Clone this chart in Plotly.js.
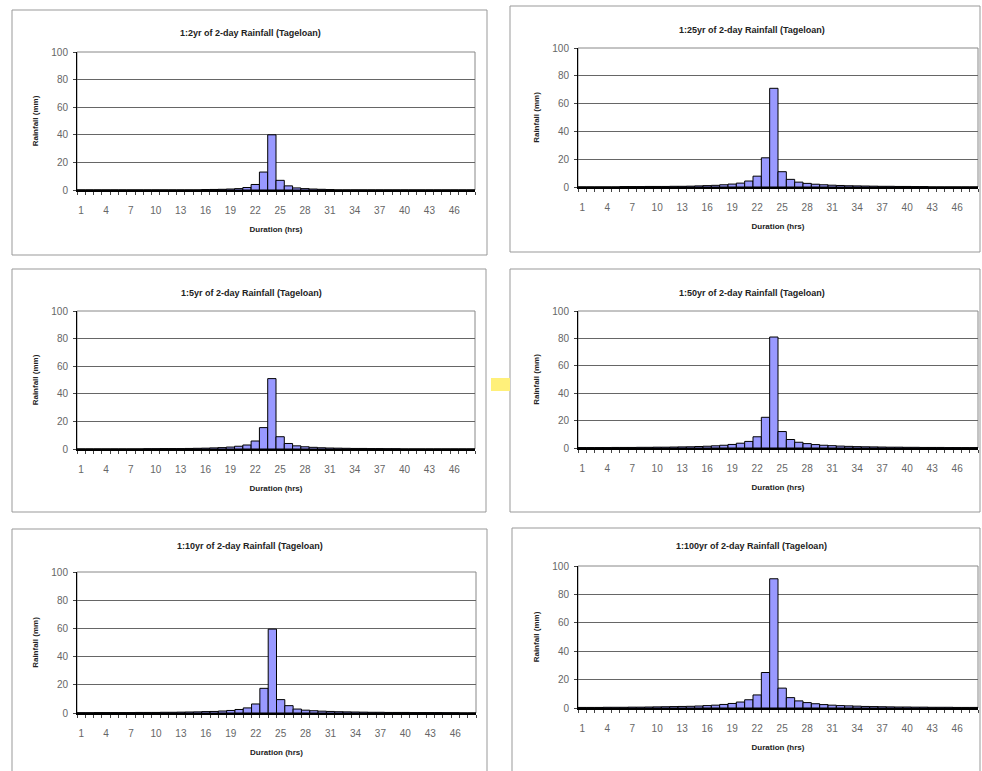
<!DOCTYPE html>
<html>
<head>
<meta charset="utf-8">
<script src="https://cdn.plot.ly/plotly-3.0.1.min.js"></script>
<style>html,body{margin:0;padding:0;background:#fff;}#chart{width:982px;height:771px;}</style>
</head>
<body>
<div id="chart"></div>
<script>
// ---- data ----
var hours = [];
for (var h = 1; h <= 48; h++) hours.push(h);

var rain2yr = [0,0,0,0,0,0,0,0,0,0,0,0,0,0,0,0.3,0.4,0.5,0.7,1.0,1.8,4,13,40,7,3,1.5,1,0.7,0.5,0.3,0,0,0,0,0,0,0,0,0,0,0,0,0,0,0,0,0];
var rain25yr = [0,0,0,0,0,0.3,0.3,0.3,0.4,0.4,0.4,0.5,0.5,0.6,0.8,1.0,1.2,1.6,2.1,2.8,4.3,7.8,21,71,11,5.5,3.5,2.6,2.0,1.6,1.3,1.1,0.9,0.8,0.7,0.6,0.5,0.5,0.4,0.4,0.3,0.3,0,0,0,0,0,0];
var rain5yr = [0,0,0,0,0,0,0,0,0.2,0.2,0.3,0.3,0.3,0.4,0.5,0.6,0.8,1.0,1.4,2.0,2.9,5.8,15.5,51,8.9,4.0,2.3,1.6,1.2,0.9,0.7,0.6,0.5,0.4,0.4,0.3,0.3,0.2,0.2,0,0,0,0,0,0,0,0,0];
var rain50yr = [0.3,0.3,0.3,0.3,0.4,0.4,0.4,0.5,0.5,0.6,0.6,0.7,0.8,0.9,1.1,1.3,1.6,2.0,2.6,3.5,4.8,8.2,22.4,81,12,6.2,4.2,3.2,2.5,2.0,1.7,1.4,1.2,1.0,0.9,0.8,0.7,0.6,0.6,0.5,0.5,0.4,0.4,0.4,0.3,0.3,0.3,0.3];
var rain10yr = [0.2,0.2,0.3,0.3,0.3,0.3,0.3,0.4,0.4,0.4,0.5,0.5,0.6,0.7,0.8,1.0,1.1,1.4,1.8,2.5,3.6,6.4,17.5,59.5,9.5,5.2,2.8,2.0,1.6,1.3,1.1,0.9,0.8,0.7,0.6,0.5,0.5,0.4,0.4,0.4,0.3,0.3,0.3,0.3,0.2,0.2,0,0];
var rain100yr = [0.4,0.4,0.4,0.5,0.5,0.5,0.6,0.6,0.7,0.8,0.9,1.0,1.1,1.2,1.4,1.7,2.0,2.5,3.2,4.2,5.8,9.2,25,91,14,7.3,5.0,3.8,3.0,2.4,2.0,1.7,1.5,1.3,1.1,1.0,0.9,0.8,0.7,0.7,0.6,0.6,0.5,0.5,0.5,0.4,0.4,0.4];

var chartTitles = [
  "1:2yr of 2-day Rainfall (Tageloan)",
  "1:25yr of 2-day Rainfall (Tageloan)",
  "1:5yr of 2-day Rainfall (Tageloan)",
  "1:50yr of 2-day Rainfall (Tageloan)",
  "1:10yr of 2-day Rainfall (Tageloan)",
  "1:100yr of 2-day Rainfall (Tageloan)"
];
var seriesList = [rain2yr, rain25yr, rain5yr, rain50yr, rain10yr, rain100yr];
var xTitle = "Duration (hrs)";
var yTitle = "Rainfall (mm)";

// ---- layout geometry (pixels) ----
var W = 982, H = 771;
var plots = [
  {x0:77,  x1:475, y0:52,  y1:190, box:[12,10,487,255],  tx:250, ty:33},
  {x0:578, x1:978, y0:48,  y1:187, box:[510,6,980,252],  tx:752, ty:30},
  {x0:77,  x1:475, y0:311, y1:449, box:[12,269,486,512], tx:251, ty:293},
  {x0:578, x1:978, y0:311, y1:448, box:[510,269,980,512],tx:752, ty:293},
  {x0:77,  x1:476, y0:572, y1:713, box:[12,529,487,790], tx:250, ty:546},
  {x0:578, x1:978, y0:566, y1:708, box:[512,528,980,790],tx:751, ty:546}
];
function px(x){return x/W;}
function py(y){return 1 - y/H;}

var FONT = "Liberation Sans, Arial, sans-serif";
var data = [];
var layout = {
  width: W, height: H,
  margin: {l:0, r:0, t:0, b:0},
  paper_bgcolor: "#fff", plot_bgcolor: "#fff",
  showlegend: false,
  bargap: 0,
  font: {family: FONT},
  shapes: [], annotations: []
};

plots.forEach(function(p, i){
  var n = i === 0 ? "" : String(i + 1);
  data.push({
    type: "bar", x: hours, y: seriesList[i],
    xaxis: "x" + n, yaxis: "y" + n,
    marker: {color: "#9999FF", line: {color: "#000", width: 1}},
    hoverinfo: "x+y"
  });
  layout["xaxis" + n] = {
    domain: [px(p.x0), px(p.x1)], anchor: "y" + n,
    range: [0.5, 48.5], tickmode: "linear", tick0: 1, dtick: 3,
    ticks: "", ticklabelstandoff: 10,
    showgrid: false, zeroline: false,
    showline: true, linecolor: "#000", linewidth: 1.5,
    tickfont: {size: 10, color: "#666", family: FONT},
    minor: {ticks: "outside", ticklen: 3, tick0: 0.5, dtick: 1, tickcolor: "#444", showgrid: false},
    title: {text: "<b>" + xTitle + "</b>", font: {size: 8, color: "#222", family: FONT}, standoff: 12},
    fixedrange: true
  };
  layout["yaxis" + n] = {
    domain: [py(p.y1), py(p.y0)], anchor: "x" + n,
    range: [0, 100], tickmode: "linear", tick0: 0, dtick: 20,
    showgrid: true, gridcolor: "#666", gridwidth: 1, zeroline: false,
    showline: true, linecolor: "#000", linewidth: 1,
    ticks: "outside", ticklen: 3, tickcolor: "#444", ticklabelstandoff: 3,
    tickfont: {size: 10, color: "#666", family: FONT},
    title: {text: "<b>" + yTitle + "</b>", font: {size: 8, color: "#222", family: FONT}, standoff: 11},
    fixedrange: true
  };
  // plot area border
  layout.shapes.push({type: "rect", xref: "x" + n + " domain", yref: "y" + n + " domain",
    x0: 0, x1: 1, y0: 0, y1: 1, line: {color: "#888", width: 1}, layer: "below"});
  // chart box
  layout.shapes.push({type: "rect", xref: "paper", yref: "paper",
    x0: px(p.box[0]), x1: px(p.box[2]), y0: py(p.box[3]), y1: py(p.box[1]),
    line: {color: "#999", width: 1}, layer: "below"});
  // chart title
  layout.annotations.push({xref: "paper", yref: "paper", x: px(p.tx), y: py(p.ty),
    text: "<b>" + chartTitles[i] + "</b>", showarrow: false,
    xanchor: "center", yanchor: "middle", font: {size: 9, color: "#222", family: FONT}});
});

// small yellow mark between panels
layout.shapes.push({type: "rect", xref: "paper", yref: "paper",
  x0: px(491), x1: px(510), y0: py(391), y1: py(378),
  line: {width: 0}, fillcolor: "#FFF07A", layer: "above"});

Plotly.newPlot("chart", data, layout, {staticPlot: true});
</script>
</body>
</html>
